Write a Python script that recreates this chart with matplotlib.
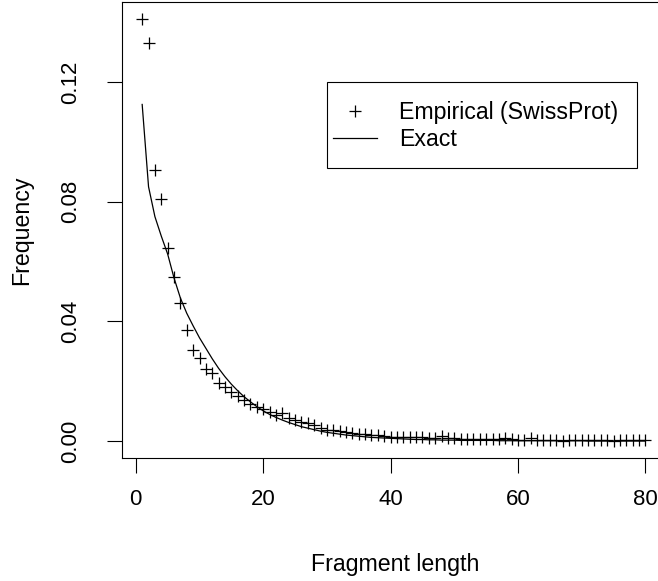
import numpy as np
import matplotlib
matplotlib.use('Agg')
import matplotlib.pyplot as plt
from matplotlib.patches import Rectangle

plt.rcParams['font.family'] = ['Liberation Sans', 'DejaVu Sans']

# Fragment lengths and frequencies
length = np.arange(1, 81)

empirical = [0.1410, 0.1330, 0.0905, 0.0810, 0.0645, 0.0548, 0.0462, 0.0372, 0.0305, 0.0277,
             0.0242, 0.0226, 0.0195, 0.0182, 0.0165, 0.0150, 0.0137, 0.0125, 0.0114, 0.0106,
             0.0096, 0.0088, 0.0093, 0.0078, 0.0071, 0.0065, 0.0059, 0.0053, 0.0042, 0.0038,
             0.0036, 0.0034, 0.0031, 0.0028, 0.0025, 0.0022, 0.0020, 0.0019, 0.0017, 0.0015,
             0.0014, 0.0014, 0.0013, 0.0012, 0.0012, 0.0011, 0.0010, 0.0017, 0.0010, 0.0009,
             0.0008, 0.0008, 0.0007, 0.0007, 0.0007, 0.0006, 0.0006, 0.0010, 0.0006, 0.0005,
             0.0005, 0.0010, 0.0005, 0.0005, 0.0004, 0.0004, 0.0001, 0.0003, 0.0003, 0.0003,
             0.0003, 0.0003, 0.0003, 0.0003, 0.0000, 0.0003, 0.0003, 0.0003, 0.0003, 0.0003]

exact = [0.1125, 0.0850, 0.0750, 0.0685, 0.0625, 0.0545, 0.0478, 0.0427, 0.0385, 0.0345,
         0.0310, 0.0275, 0.0243, 0.0215, 0.0190, 0.0168, 0.0148, 0.0131, 0.0115, 0.0101,
         0.0089, 0.0079, 0.0070, 0.0062, 0.0055, 0.0048, 0.0043, 0.0038, 0.0033, 0.0029,
         0.0026, 0.0023, 0.0020, 0.0018, 0.0016, 0.0014, 0.0012, 0.0011, 0.0010, 0.0009,
         0.0008, 0.0007, 0.0006, 0.0005, 0.0005, 0.0004, 0.0004, 0.0003, 0.0003, 0.0003,
         0.0002, 0.0002, 0.0002, 0.0002, 0.0002, 0.0002, 0.0001, 0.0001, 0.0001, 0.0001,
         0.0001, 0.0001, 0.0001, 0.0001, 0.0001, 0.0001, 0.0001, 0.0001, 0.0001, 0.0001,
         0.0000, 0.0000, 0.0000, 0.0000, 0.0000, 0.0000, 0.0000, 0.0000, 0.0000, 0.0000]

xticks = [0, 20, 40, 60, 80]
yticks = [0.00, 0.04, 0.08, 0.12]

W, H = 658, 581
fs = 16.7      # labels and legend
fs_tick = 16

fig = plt.figure(figsize=(W/100, H/100), dpi=100)
# plot region (pixels): 0 at x=135.8, 80 at x=645.4, runs past the right edge
ux = (645.4 - 135.8) / 80
left = 135.8 - 2.16*ux
ax = fig.add_axes([left/W, (H-457.9)/H, 85.32*ux/W, 455.6/H])

ax.plot(length, empirical, ls='none', marker='+', ms=8.5, mew=0.9, color='black',
        label='Empirical (SwissProt)')
ax.plot(length, exact, color='black', lw=0.9, label='Exact')

ax.set_xlim(-2.16, 83.16)
ax.set_ylim(-0.00564, 0.14664)

ax.set_xticks(xticks)
ax.set_xticklabels([str(t) for t in xticks])
ax.set_yticks(yticks)
ax.set_yticklabels(['%.2f' % t for t in yticks], rotation=90, va='center')

ax.tick_params(axis='both', direction='out', length=10.5, width=0.8, labelsize=fs_tick, color='black')
ax.tick_params(axis='x', pad=12)
ax.tick_params(axis='y', pad=19)
for s in ax.spines.values():
    s.set_linewidth(0.8)

axw = 85.32*ux
ax.set_xlabel('Fragment length', fontsize=fs)
ax.xaxis.label.set_va('center')
ax.xaxis.set_label_coords((395 - left)/axw, (457.9-565)/455.6)
ax.set_ylabel('Frequency', fontsize=fs)
ax.yaxis.label.set_va('center')
ax.yaxis.set_label_coords((22 - left)/axw, 0.5)

# legend content, with an R-style box drawn around it
leg = ax.legend(loc='upper left', bbox_to_anchor=(333/W, 1-101/H), bbox_transform=fig.transFigure,
                frameon=False, borderpad=0, borderaxespad=0, fontsize=fs,
                handlelength=1.9, handletextpad=0.93, labelspacing=0.18)
fig.patches.append(Rectangle((326.7/W, 1-168.3/H), (637.3-326.7)/W, (168.3-81.7)/H,
                             transform=fig.transFigure, fill=False, edgecolor='black', lw=0.8))

plt.savefig('out.png', dpi=100)
